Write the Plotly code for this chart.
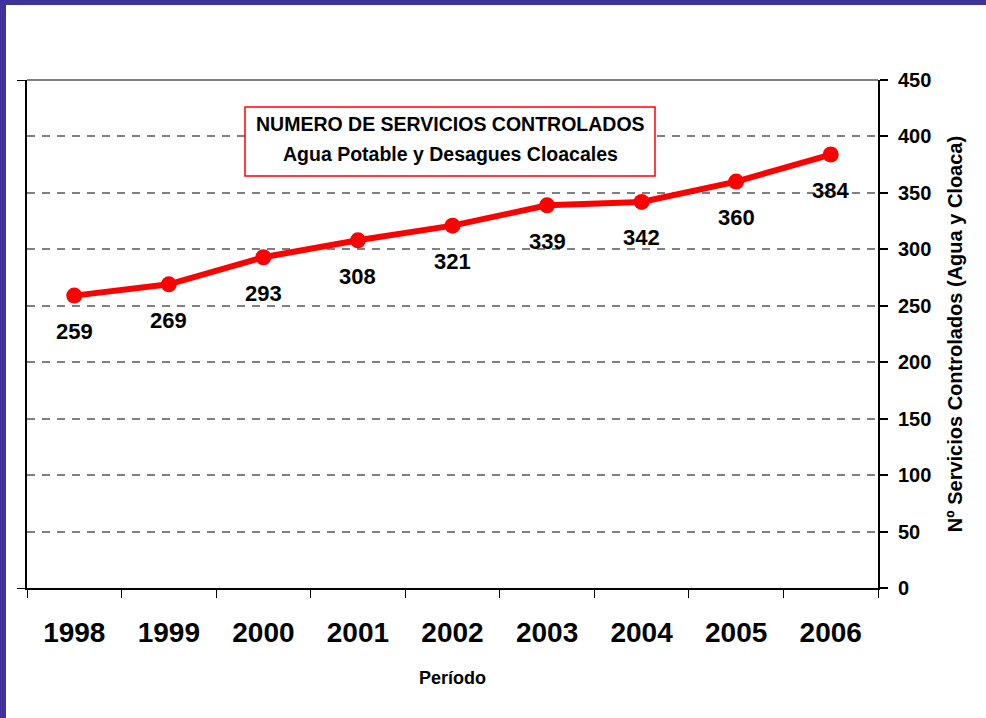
import plotly.graph_objects as go

years = ["1998", "1999", "2000", "2001", "2002", "2003", "2004", "2005", "2006"]
servicios = [259, 269, 293, 308, 321, 339, 342, 360, 384]
y_ticks = [0, 50, 100, 150, 200, 250, 300, 350, 400, 450]

title_line1 = "NUMERO DE SERVICIOS CONTROLADOS"
title_line2 = "Agua Potable y Desagues Cloacales"
y_title = "Nº Servicios Controlados (Agua y Cloaca)"
x_title = "Período"

FONT = "Liberation Sans, Arial, sans-serif"
W, H = 986, 718
L, R, T, B = 27, 108, 80, 130
PW, PH = W - L - R, H - T - B


def px(x):
    return (x - L) / PW


def py(y):
    return (H - B - y) / PH


fig = go.Figure()
fig.add_trace(go.Scatter(
    x=years, y=servicios, mode="lines+markers",
    line=dict(color="#FF0000", width=6),
    marker=dict(color="#FF0000", size=16),
    showlegend=False, hoverinfo="skip",
))
# invisible trace for left axis
fig.add_trace(go.Scatter(x=years, y=servicios, yaxis="y2", mode="markers",
                         marker=dict(opacity=0), showlegend=False, hoverinfo="skip"))

annotations = []
for i, v in enumerate(servicios):
    annotations.append(dict(x=i, y=v, xref="x", yref="y", text=str(v), showarrow=False,
                            yshift=-36, xanchor="center", yanchor="middle",
                            font=dict(family=FONT, size=22, color="black", weight="bold")))

for txt, yy in [(title_line1, 124), (title_line2, 154)]:
    annotations.append(dict(
        x=px(450), y=py(yy), xref="paper", yref="paper",
        text=txt, showarrow=False, xanchor="center", yanchor="middle",
        font=dict(family=FONT, size=19.5, color="black", weight="bold"),
    ))

shapes = [
    # top border of plot area (gray solid)
    dict(type="line", xref="paper", yref="paper", x0=0, x1=1, y0=1, y1=1,
         line=dict(color="#808080", width=2)),
    # title box
    dict(type="rect", xref="paper", yref="paper",
         x0=px(245), x1=px(655), y0=py(176), y1=py(107),
         fillcolor="white", line=dict(color="#FF0000", width=1.5), layer="above"),
    # purple frame top
    dict(type="rect", xref="paper", yref="paper",
         x0=px(0), x1=px(W), y0=py(5), y1=py(-10),
         fillcolor="#3D3399", line=dict(width=0), layer="above"),
    # purple frame left
    dict(type="rect", xref="paper", yref="paper",
         x0=px(-10), x1=px(6), y0=py(H + 10), y1=py(-10),
         fillcolor="#40329A", line=dict(width=0), layer="above"),
]

fig.update_layout(
    width=W, height=H,
    margin=dict(l=L, r=R, t=T, b=B, autoexpand=False),
    paper_bgcolor="white", plot_bgcolor="white",
    font=dict(family=FONT, color="black"),
    xaxis=dict(
        type="category", tickson="boundaries", ticks="outside", ticklen=8,
        tickcolor="black", tickwidth=1,
        showline=True, linecolor="black", linewidth=2,
        showgrid=False, zeroline=False, range=[-0.5, 8.5],
        tickfont=dict(family=FONT, size=28, color="black", weight="bold"),
        ticklabelstandoff=18,
        title=dict(text=x_title, standoff=25,
                   font=dict(family=FONT, size=18, color="black", weight="bold")),
    ),
    yaxis=dict(
        side="right", range=[0, 450], tickvals=y_ticks, ticks="outside", ticklen=8,
        tickcolor="black", tickwidth=1.5, showline=True, linecolor="black", linewidth=2,
        showgrid=True, gridcolor="#808080", gridwidth=1.5, griddash="8px,7px",
        zeroline=False,
        tickfont=dict(family=FONT, size=20, color="black", weight="bold"),
        ticklabelstandoff=6,
        title=dict(text=y_title, standoff=18,
                   font=dict(family=FONT, size=20, color="black", weight="bold")),
    ),
    yaxis2=dict(
        overlaying="y", side="left", range=[0, 450], tickvals=[0, 450],
        ticks="outside", ticklen=8, tickcolor="black", showticklabels=False,
        showline=True, linecolor="black", linewidth=2, showgrid=False, zeroline=False,
    ),
    annotations=annotations,
    shapes=shapes,
)

fig.write_html("out.html", config={"displayModeBar": False},
               post_script="document.body.style.margin='0';document.body.style.overflow='hidden';")
